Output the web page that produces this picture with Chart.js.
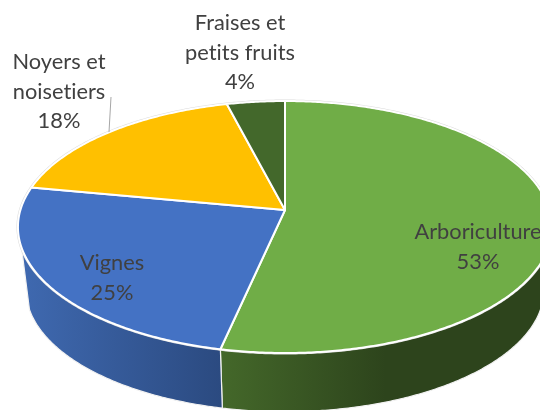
<!DOCTYPE html>
<html lang="fr">
<head>
<meta charset="utf-8">
<title>Surfaces par culture</title>
<script src="https://cdn.jsdelivr.net/npm/chart.js@4"></script>
<style>
  html, body { margin: 0; padding: 0; background: #fff; overflow: hidden; }
  canvas { display: block; }
</style>
</head>
<body>
<canvas id="pie-chart" width="540" height="410"></canvas>
<script>
const categories = ["Arboriculture", "Vignes", "Noyers et noisetiers", "Fraises et petits fruits"];
const shares = [53.4, 24.6, 18, 4];
const sliceColors = ["#70ad47", "#4472c4", "#ffc000", "#43682b"];

// side wall gradient, left to right (only the two front slices show a wall)
const wallColors = [["#44682a", "#2d441c"], ["#3f69b0", "#2b4a80"], null, null];
const wallFade = [0.5, 1];

// label lines and where each label block is centred
const labelLines = [["Arboriculture"], ["Vignes"], ["Noyers et", "noisetiers"], ["Fraises et", "petits fruits"]];
const labelAnchors = [[478, 232], [112, 263], [59, 62], [240, 23]];

// shape of the tilted disc
const view = { cx: 285, cy: 210, rx: 264.6, ry: 123.7, persp: 0.135 };
const base = { scale: 0.97, drop: 63 };
const wallFrom = 13 * Math.PI / 180;
const wallTo = 163 * Math.PI / 180;

const project = (a, scale = 1, drop = 0) => {
  const d = 1 - view.persp * Math.sin(a);
  return [
    view.cx + (scale * view.rx * Math.cos(a)) / d,
    view.cy + drop + (scale * view.ry * Math.sin(a)) / d,
  ];
};

const arcPoints = (from, to, scale, drop) => {
  const steps = Math.max(2, Math.ceil(Math.abs(to - from) / 0.01));
  const pts = [];
  for (let i = 0; i <= steps; i++) {
    pts.push(project(from + ((to - from) * i) / steps, scale, drop));
  }
  return pts;
};

const tracePoints = (ctx, pts) => {
  pts.forEach((p) => ctx.lineTo(p[0], p[1]));
};

const drawWalls = (ctx, arcs) => {
  arcs.forEach((arc, i) => {
    if (!wallColors[i]) return;
    const from = Math.max(arc.startAngle, wallFrom);
    const to = Math.min(arc.endAngle, wallTo);
    if (to <= from) return;
    const top = arcPoints(from, to, 1, 0);
    const bottom = arcPoints(to, from, base.scale, base.drop);
    const xs = top.concat(bottom).map((p) => p[0]);
    const grad = ctx.createLinearGradient(Math.min(...xs), 0, Math.max(...xs), 0);
    grad.addColorStop(0, wallColors[i][0]);
    grad.addColorStop(wallFade[i], wallColors[i][1]);
    grad.addColorStop(1, wallColors[i][1]);
    ctx.beginPath();
    tracePoints(ctx, top.concat(bottom));
    ctx.closePath();
    ctx.fillStyle = grad;
    ctx.fill();
    ctx.strokeStyle = "#f2f2f2";
    ctx.lineWidth = 1.2;
    ctx.stroke();
  });
};

const drawTop = (ctx, arcs) => {
  ctx.lineJoin = "round";
  // faint halo round the rim, then the slices with white borders
  ctx.beginPath();
  tracePoints(ctx, arcPoints(-Math.PI / 2, 1.5 * Math.PI, 1, 0));
  ctx.closePath();
  ctx.strokeStyle = "#dcdcdc";
  ctx.lineWidth = 3;
  ctx.stroke();
  arcs.forEach((arc, i) => {
    ctx.beginPath();
    ctx.moveTo(view.cx, view.cy);
    tracePoints(ctx, arcPoints(arc.startAngle, arc.endAngle, 1, 0));
    ctx.closePath();
    ctx.fillStyle = sliceColors[i];
    ctx.fill();
    ctx.strokeStyle = "#fff";
    ctx.lineWidth = 2;
    ctx.stroke();
  });
};

const drawLabels = (ctx) => {
  // leader line of the Noyers label
  ctx.beginPath();
  ctx.moveTo(111, 97);
  ctx.lineTo(109, 132);
  ctx.strokeStyle = "#a6a6a6";
  ctx.lineWidth = 1;
  ctx.stroke();

  ctx.font = '21.8px Lato, "Open Sans", sans-serif';
  ctx.letterSpacing = "0.01px"; // stops the "ti" ligature in Lato
  ctx.fillStyle = "#404040";
  ctx.textAlign = "center";
  ctx.textBaseline = "middle";
  categories.forEach((name, i) => {
    const [x, y] = labelAnchors[i];
    const lines = labelLines[i].concat(`${Math.round(shares[i])}%`);
    lines.forEach((line, n) => ctx.fillText(line, x, y + n * 29.5));
  });
};

const pie3d = {
  id: "pie3d",
  beforeDatasetsDraw(chart) {
    const arcs = chart.getDatasetMeta(0).data;
    const ctx = chart.ctx;
    ctx.save();
    drawWalls(ctx, arcs);
    drawTop(ctx, arcs);
    drawLabels(ctx);
    ctx.restore();
    return false;
  },
};

new Chart(document.getElementById("pie-chart").getContext("2d"), {
  type: "pie",
  data: {
    labels: categories,
    datasets: [{ data: shares, backgroundColor: sliceColors, borderColor: "#fff" }],
  },
  options: {
    responsive: false,
    animation: false,
    plugins: { legend: { display: false }, tooltip: { enabled: false } },
  },
  plugins: [pie3d],
});
</script>
</body>
</html>
